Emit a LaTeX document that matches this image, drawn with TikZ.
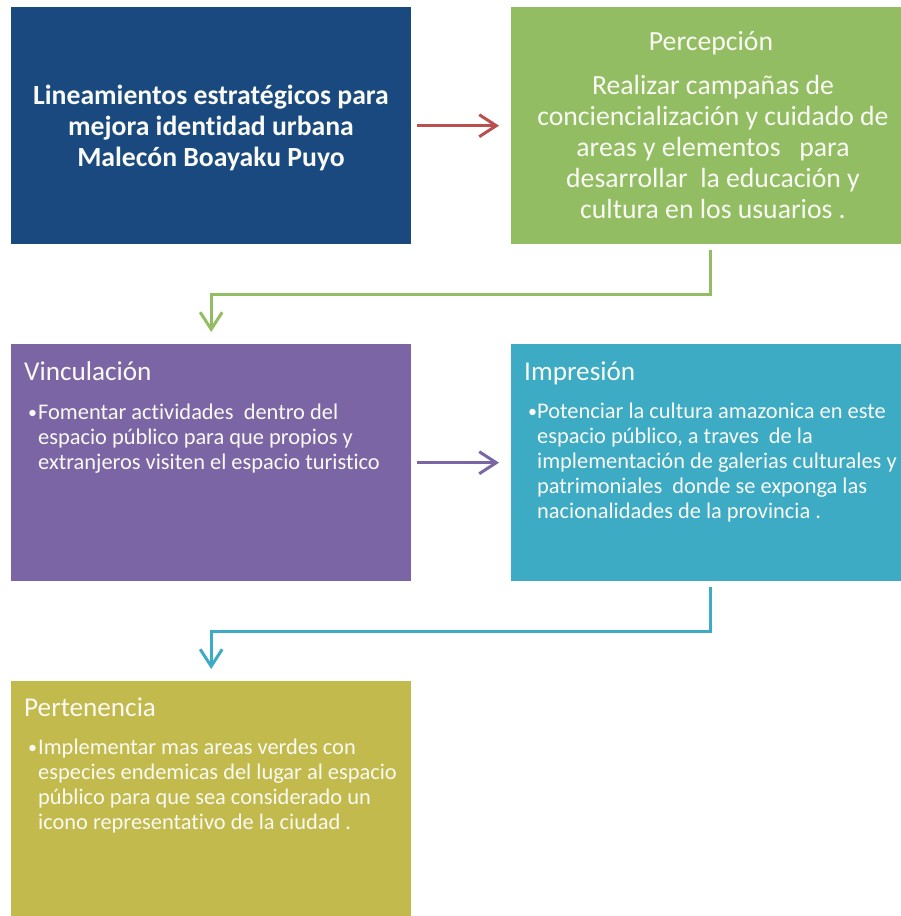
\documentclass[tikz,border=0pt]{standalone}
\usepackage{fontspec}
\setmainfont{Carlito}[Ligatures=NoCommon]
\usetikzlibrary{arrows.meta}
\definecolor{cblue}{HTML}{19497E}
\definecolor{cgreen}{HTML}{93BD63}
\definecolor{cpurple}{HTML}{7C65A4}
\definecolor{cteal}{HTML}{3DABC4}
\definecolor{colive}{HTML}{C2BA4D}
\definecolor{cred}{HTML}{B9504F}
\definecolor{ctext}{HTML}{FAFAF4}
\begin{document}
\begin{tikzpicture}[x=1pt,y=-1pt,
  box/.style={draw=none,inner sep=0pt,anchor=north west,minimum height=237pt},
  big/.style={font=\fontsize{27.7}{31}\selectfont,text=ctext,inner sep=0pt},
  small/.style={font=\fontsize{22.4}{25}\selectfont,text=ctext,inner sep=0pt,align=left,anchor=base west},
  head/.style={font=\fontsize{27.2}{30}\selectfont,text=ctext,inner sep=0pt,anchor=base west},
  bul/.style={font=\fontsize{18}{25}\selectfont,text=ctext,inner sep=0pt,anchor=base west},
  conn/.style={line width=3pt,-{Straight Barb[length=17pt,width=22pt,line width=3pt]}}]
\useasboundingbox (0,0) rectangle (901,916);
\node[box,fill=cblue,minimum width=400pt] (b1) at (11,7) {};
\node[box,fill=cgreen,minimum width=390pt] (b2) at (511,7) {};
\node[box,fill=cpurple,minimum width=400pt] (b3) at (11,344) {};
\node[box,fill=cteal,minimum width=390pt] (b4) at (511,344) {};
\node[box,fill=colive,minimum width=400pt,minimum height=235pt] (b5) at (11,681) {};
% box 1 (anchor = baseline of last line)
\node[big,font=\fontsize{27.7}{30.6}\selectfont\bfseries,align=center,anchor=base] (t1) at (211,166)
  {Lineamientos estratégicos para\\mejora identidad urbana\\Malecón Boayaku Puyo};
% box 2
\node[big,anchor=base] (h2) at (711,50) {Percepción};
\node[big,align=center,anchor=base] (t2) at (713,218)
  {Realizar campañas de\\conciencialización y cuidado de\\areas y elementos \ \ para\\desarrollar \ la educación y\\cultura en los usuarios .};
% box 3
\node[head] (h3) at (24,380) {Vinculación};
\node[bul] (p3) at (28,418) {•};
\node[small] (t3) at (38,469)
  {Fomentar actividades \ dentro del\\espacio público para que propios y\\extranjeros visiten el espacio turistico};
% box 4
\node[head] (h4) at (524,380) {Impresión};
\node[bul] (p4) at (528,417) {•};
\node[small] (t4) at (537,518)
  {Potenciar la cultura amazonica en este\\espacio público, a traves \ de la\\implementación de galerias culturales y\\patrimoniales \ donde se exponga las\\nacionalidades de la provincia .};
% box 5
\node[head] (h5) at (24,716) {Pertenencia};
\node[bul] (p5) at (28,753) {•};
\node[small] (t5) at (38,829)
  {Implementar mas areas verdes con\\especies endemicas del lugar al espacio\\público para que sea considerado un\\icono representativo de la ciudad .};
% connectors
\draw[conn,draw=cred] ([xshift=6pt]b1.east) -- ([xshift=-12pt]b2.west);
\draw[conn,draw=cpurple] ([xshift=6pt]b3.east) -- ([xshift=-12pt]b4.west);
\draw[conn,draw=cgreen] ([xshift=4pt,yshift=-6pt]b2.south) -- ++(0,44) -| ([yshift=12pt]b3.north);
\draw[conn,draw=cteal] ([xshift=4pt,yshift=-6pt]b4.south) -- ++(0,44) -| ([yshift=12pt]b5.north);
\end{tikzpicture}
\end{document}
